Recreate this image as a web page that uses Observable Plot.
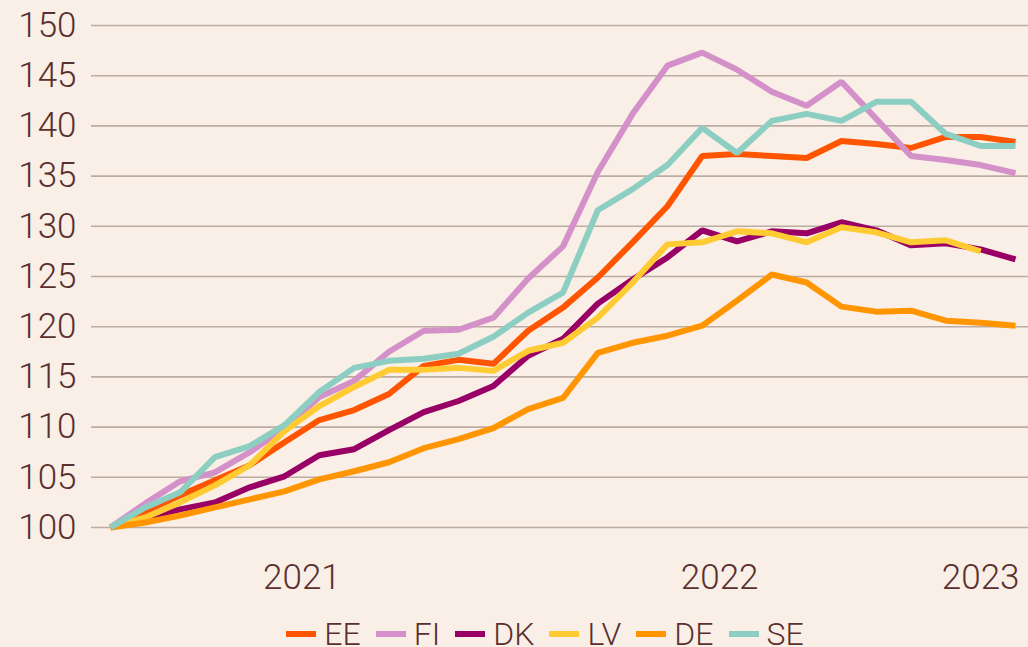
<!DOCTYPE html>
<html>
<head>
<meta charset="utf-8">
<script src="https://cdn.jsdelivr.net/npm/d3@7"></script>
<script src="https://cdn.jsdelivr.net/npm/@observablehq/plot@0.6"></script>
<style>
  html, body { margin: 0; padding: 0; background: #f9efe6; }
  body { width: 1028px; height: 647px; overflow: hidden; font-family: Roboto, "Noto Sans", sans-serif; }
  #legend { display: flex; justify-content: center; align-items: center; gap: 15px;
    padding-left: 62px; padding-top: 8px; box-sizing: border-box; width: 1028px; height: 50px;
    font-family: Roboto, sans-serif; font-weight: 300; font-size: 32px; color: #5a2f2f; }
  .item { display: flex; align-items: center; gap: 8px; }
  .sw { width: 30px; height: 6px; display: inline-block; }
</style>
</head>
<body>
<div id="chart"></div>
<div id="legend"></div>
<script>
// Monthly index values (Jan 2021 = 100), 27 months
const seriesNames = ["EE", "FI", "DK", "LV", "DE", "SE"];
const seriesColors = ["#ff5500", "#d490c8", "#990066", "#ffcb33", "#ff9500", "#8ccfc2"];

const EE = [100, 101.6, 103.2, 104.7, 106.2, 108.5, 110.7, 111.7, 113.3, 116.1, 116.7, 116.3, 119.6, 121.9, 124.9, 128.4, 132.0, 137.0, 137.2, 137.0, 136.8, 138.5, 138.2, 137.8, 138.9, 138.9, 138.4];
const FI = [100, 102.4, 104.6, 105.5, 107.5, 109.9, 113.0, 114.6, 117.5, 119.6, 119.7, 120.9, 124.8, 128.0, 135.4, 141.2, 146.0, 147.3, 145.6, 143.4, 142.0, 144.4, 140.7, 137.0, 136.6, 136.1, 135.3];
const DK = [100, 100.9, 101.8, 102.5, 104.0, 105.1, 107.2, 107.8, 109.7, 111.5, 112.6, 114.1, 117.1, 118.8, 122.3, 124.7, 126.9, 129.6, 128.5, 129.5, 129.3, 130.4, 129.6, 128.1, 128.3, 127.7, 126.7];
const LV = [100, 101.0, 102.5, 104.2, 106.2, 109.6, 112.1, 114.0, 115.7, 115.7, 115.9, 115.6, 117.6, 118.4, 120.9, 124.4, 128.2, 128.4, 129.5, 129.3, 128.4, 129.9, 129.4, 128.4, 128.6, 127.5, null];
const DE = [100, 100.5, 101.2, 102.0, 102.8, 103.6, 104.8, 105.6, 106.5, 107.9, 108.8, 109.9, 111.8, 112.9, 117.4, 118.4, 119.1, 120.1, 122.6, 125.2, 124.4, 122.0, 121.5, 121.6, 120.6, 120.4, 120.1];
const SE = [100, 102.0, 103.5, 107.0, 108.1, 110.2, 113.5, 115.9, 116.6, 116.8, 117.3, 119.0, 121.4, 123.4, 131.6, 133.7, 136.1, 139.8, 137.3, 140.5, 141.2, 140.5, 142.4, 142.4, 139.2, 138.0, 138.0];

const yTicks = [100, 105, 110, 115, 120, 125, 130, 135, 140, 145, 150];
const xTickPositions = [5.5, 17.5, 25];
const xTickLabels = ["2021", "2022", "2023"];

const seriesValues = [EE, FI, DK, LV, DE, SE];
const rows = [];
seriesNames.forEach((name, k) => {
  seriesValues[k].forEach((v, i) => { if (v != null) rows.push({ s: name, i, v }); });
});

const textColor = "#5a2f2f";
const chart = Plot.plot({
  width: 1028,
  height: 605,
  marginLeft: 91,
  marginRight: 0,
  marginTop: 25,
  marginBottom: 78,
  style: { background: "#f9efe6", color: textColor, fontFamily: "Roboto, sans-serif", fontSize: "35px", fontWeight: 300 },
  x: { domain: [0, 26], range: [110, 1015] },
  y: { domain: [100, 150] },
  color: { domain: seriesNames, range: seriesColors },
  marks: [
    Plot.ruleY(yTicks, { stroke: "#bdaca4", strokeWidth: 1.6 }),
    Plot.axisY({ ticks: yTicks, label: null, tickSize: 0, tickPadding: 15, fontSize: 35, fontWeight: 300 }),
    Plot.axisX({ ticks: xTickPositions, label: null, tickFormat: (d) => xTickLabels[xTickPositions.indexOf(d)], tickSize: 0, tickPadding: 37, fontSize: 35, fontWeight: 300 }),
    Plot.line(rows, { x: "i", y: "v", z: "s", stroke: "s", strokeWidth: 6, strokeLinejoin: "miter", strokeLinecap: "butt" })
  ]
});
document.getElementById("chart").appendChild(chart);

const legend = document.getElementById("legend");
seriesNames.forEach((name, k) => {
  const item = document.createElement("span");
  item.className = "item";
  const sw = document.createElement("span");
  sw.className = "sw";
  sw.style.background = seriesColors[k];
  const t = document.createElement("span");
  t.textContent = name;
  item.appendChild(sw);
  item.appendChild(t);
  legend.appendChild(item);
});
</script>
</body>
</html>
